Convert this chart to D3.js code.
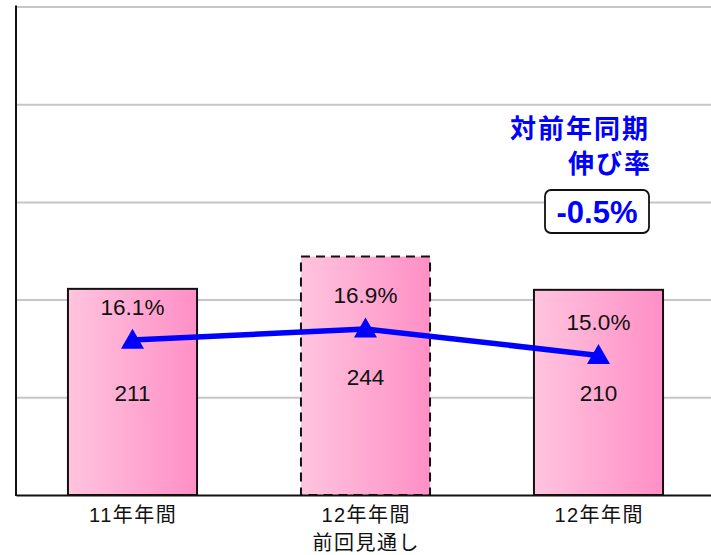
<!DOCTYPE html>
<html>
<head>
<meta charset="utf-8">
<script src="https://cdn.jsdelivr.net/npm/d3@7"></script>
<style>
  html, body { margin: 0; padding: 0; background: #fff; }
  svg { display: block; }
  text { font-family: "Liberation Sans", Arial, "Noto Sans CJK JP", sans-serif; }
</style>
</head>
<body>
<svg id="chart" width="711" height="555"></svg>
<script>
// ---- data ----
const categories = [["11年年間"], ["12年年間", "前回見通し"], ["12年年間"]];
const barValues = [211, 244, 210];
const dashedBars = [false, true, false];
const growthRates = [16.1, 16.9, 15.0];
const yTicks = [0, 100, 200, 300, 400, 500];
const annotationLines = ["対前年同期", "伸び率"];
const annotationValue = "-0.5%";

// ---- layout ----
const svg = d3.select("#chart");
const plotLeft = 16, plotRight = 715, plotTop = 6.5, plotBottom = 495;

const x = d3.scaleBand()
  .domain(categories.map((d, i) => i))
  .range([plotLeft, plotRight])
  .paddingInner(0.446)
  .paddingOuter(0.223);

const y = d3.scaleLinear().domain([0, 500]).range([plotBottom, plotTop]);
const y2 = d3.scaleLinear().domain([5, 40]).range([plotBottom, plotTop]);

// gradient
const defs = svg.append("defs");
const grad = defs.append("linearGradient").attr("id", "pink")
  .attr("x1", "0%").attr("x2", "100%").attr("y1", "0%").attr("y2", "0%");
grad.append("stop").attr("offset", "0%").attr("stop-color", "#ffc4de");
grad.append("stop").attr("offset", "100%").attr("stop-color", "#ff8fc6");

// gridlines
const yAxis = d3.axisLeft(y).tickValues(yTicks.slice(1)).tickSize(-(plotRight - plotLeft)).tickFormat("");
const gGrid = svg.append("g").attr("transform", `translate(${plotLeft},0)`).call(yAxis);
gGrid.select(".domain").remove();
gGrid.selectAll(".tick line").attr("stroke", "#c6c6c6").attr("stroke-width", 2);

// bars
svg.append("g").selectAll("rect").data(barValues).join("rect")
  .attr("x", (d, i) => x(i))
  .attr("y", d => y(d))
  .attr("width", x.bandwidth())
  .attr("height", d => y(0) - y(d))
  .attr("fill", "url(#pink)")
  .attr("stroke", "#111")
  .attr("stroke-width", 2)
  .attr("stroke-dasharray", (d, i) => dashedBars[i] ? "9,6" : null);

// axes lines
const xAxis = d3.axisBottom(x).tickSize(0).tickFormat("");
const gX = svg.append("g").attr("transform", `translate(0,${plotBottom})`).call(xAxis);
gX.select(".domain").attr("stroke", "#111").attr("stroke-width", 2);
svg.append("line")
  .attr("x1", plotLeft).attr("x2", plotLeft)
  .attr("y1", plotTop - 1).attr("y2", plotBottom + 1)
  .attr("stroke", "#111").attr("stroke-width", 2);

// category labels
const gCat = svg.append("g");
categories.forEach((lines, i) => {
  const cx = x(i) + x.bandwidth() / 2;
  const t = gCat.append("text")
    .attr("x", cx)
    .attr("y", 521.5)
    .attr("text-anchor", "middle")
    .attr("font-size", 20)
    .attr("letter-spacing", 1.5)
    .attr("fill", "#111");
  lines.forEach((ln, j) => {
    t.append("tspan").attr("x", cx + 0.75).attr("dy", j === 0 ? 0 : 28.5).text(ln);
  });
});

// bar value labels
svg.append("g").selectAll("text").data(barValues).join("text")
  .attr("x", (d, i) => x(i) + x.bandwidth() / 2)
  .attr("y", d => (y(d) + y(0)) / 2 + 9)
  .attr("text-anchor", "middle")
  .attr("font-size", 22.5)
  .attr("fill", "#111")
  .text(d => d);

// line
const line = d3.line()
  .x((d, i) => x(i) + x.bandwidth() / 2)
  .y(d => y2(d));
svg.append("path").datum(growthRates)
  .attr("d", line)
  .attr("fill", "none")
  .attr("stroke", "#0000ff")
  .attr("stroke-width", 5.5);

// triangle markers
const tri = d3.symbol().type(d3.symbolTriangle).size(230);
svg.append("g").selectAll("path").data(growthRates).join("path")
  .attr("d", tri)
  .attr("transform", (d, i) => `translate(${x(i) + x.bandwidth() / 2},${y2(d) + 2})`)
  .attr("fill", "#0000ff");

// percent labels
svg.append("g").selectAll("text").data(growthRates).join("text")
  .attr("x", (d, i) => x(i) + x.bandwidth() / 2)
  .attr("y", d => y2(d) - 25.5)
  .attr("text-anchor", "middle")
  .attr("font-size", 22.5)
  .attr("fill", "#111")
  .text(d => d3.format(".1f")(d) + "%");

// annotation
const ann = svg.append("g");
ann.append("text")
  .attr("x", 650).attr("y", 138)
  .attr("text-anchor", "end")
  .attr("font-size", 26).attr("font-weight", "bold")
  .attr("letter-spacing", 2)
  .attr("fill", "#0000ff")
  .text(annotationLines[0]);
ann.append("text")
  .attr("x", 652).attr("y", 173)
  .attr("text-anchor", "end")
  .attr("font-size", 26).attr("font-weight", "bold")
  .attr("letter-spacing", 2)
  .attr("fill", "#0000ff")
  .text(annotationLines[1]);
ann.append("rect")
  .attr("x", 545).attr("y", 190).attr("width", 104).attr("height", 43)
  .attr("rx", 6).attr("ry", 6)
  .attr("fill", "#fff").attr("stroke", "#111").attr("stroke-width", 1.8);
ann.append("text")
  .attr("x", 597).attr("y", 222.5)
  .attr("text-anchor", "middle")
  .attr("font-size", 31).attr("font-weight", "bold")
  .attr("fill", "#0000ff")
  .text(annotationValue);
</script>
</body>
</html>
